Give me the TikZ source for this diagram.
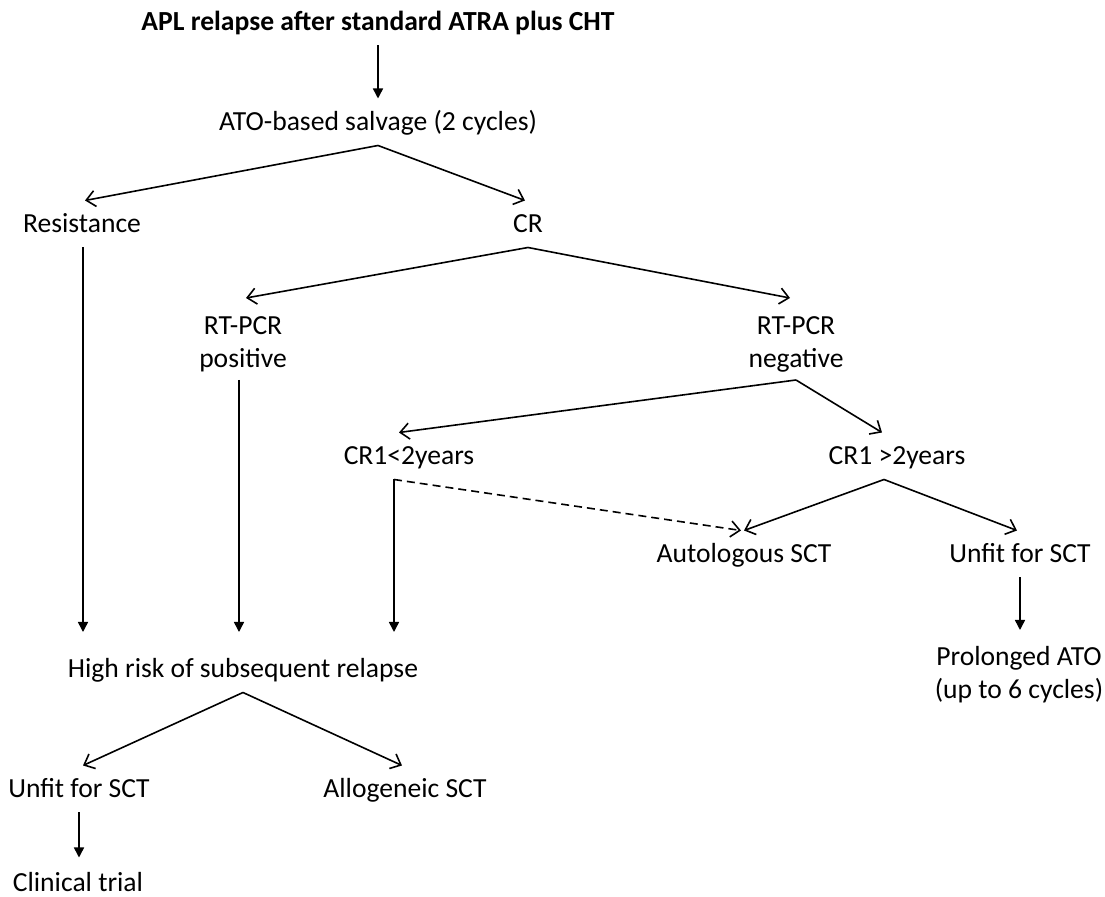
\documentclass[tikz,border=0pt]{standalone}
\usepackage{fontspec}
\setmainfont{Carlito}
\usetikzlibrary{arrows.meta}
\begin{document}
\begin{tikzpicture}[x=0.5pt,y=-0.5pt,
 lbl/.style={inner sep=0pt, outer sep=0pt, text height=0.95em, text depth=0.05em, minimum height=23.5pt, font=\fontsize{13.8pt}{16pt}\selectfont},
 lbltwo/.style={inner sep=0pt, outer sep=0pt, minimum height=41pt, align=center, font=\fontsize{13.8pt}{16.5pt}\selectfont},
 diag/.style={line width=0.8pt, -{Straight Barb[length=4.5pt,width=8pt]}},
 vert/.style={line width=0.75pt, -{Triangle[length=5pt,width=5pt]}},
 dashline/.style={diag, dash pattern=on 4pt off 2.5pt}]
\useasboundingbox (0,0) rectangle (1105,897);
\node[lbl, font=\bfseries\fontsize{13.8pt}{16pt}\selectfont] (title) at (378,22) {APL relapse after standard ATRA plus CHT};
\node[lbl] (ato) at (378,122) {ATO-based salvage (2 cycles)};
\node[lbl] (res) at (82,224) {Resistance};
\node[lbl] (cr) at (528,224) {CR};
\node[lbltwo] (pos) at (243,344) {RT-PCR\\positive};
\node[lbltwo] (neg) at (796,344) {RT-PCR\\negative};
\node[lbl] (c1) at (409,456) {CR1<2years};
\node[lbl] (c2) at (897,456) {CR1 >2years};
\node[lbl] (auto) at (744,554) {Autologous SCT};
\node[lbl] (unfr) at (1020,554) {Unfit for SCT};
\node[lbltwo] (prol) at (1019,675) {Prolonged ATO\\(up to 6 cycles)};
\node[lbl] (hr) at (243,669) {High risk of subsequent relapse};
\node[lbl] (unfl) at (79,789) {Unfit for SCT};
\node[lbl] (allo) at (405,789) {Allogeneic SCT};
\node[lbl] (clin) at (78,883) {Clinical trial};
\coordinate (hrtop) at (0,632);
\coordinate (c1foot) at ([xshift=-7.5pt]c1.south);
\coordinate (c2foot) at ([xshift=-6.5pt]c2.south);
% connectors
\draw[vert] (title.south) -- (ato.north);
\draw[diag] (ato.south) -- ([xshift=1.5pt]res.north);
\draw[diag] (ato.south) -- ([xshift=-1.5pt]cr.north);
\draw[diag] (cr.south) -- ([xshift=1.5pt,yshift=2.5pt]pos.north);
\draw[diag] (cr.south) -- ([xshift=-3pt,yshift=2.5pt]neg.north);
\draw[diag] ([yshift=2.5pt]neg.south) -- ([xshift=-5pt]c1.north);
\draw[diag] ([yshift=2.5pt]neg.south) -- ([xshift=-7.5pt]c2.north);
\draw[diag] (c2foot) -- (auto.north);
\draw[diag] (c2foot) -- ([xshift=-1.5pt]unfr.north);
\draw[dashline] (c1foot) -- ([xshift=-1.5pt]auto.north);
\draw[vert] (unfr.south) -- ([yshift=2pt]unfr.south |- prol.north);
\draw[vert] ([xshift=0.5pt]res.south) -- ([xshift=0.5pt]res.south |- hrtop);
\draw[vert] ([xshift=-2pt,yshift=2.5pt]pos.south) -- ([xshift=-2pt]pos.south |- hrtop);
\draw[vert] (c1foot) -- (c1foot |- hrtop);
\draw[diag] (hr.south) -- ([xshift=2pt]unfl.north);
\draw[diag] (hr.south) -- ([xshift=-1.5pt]allo.north);
\draw[vert] (unfl.south) -- ([yshift=1pt]unfl.south |- clin.north);
\end{tikzpicture}
\end{document}
